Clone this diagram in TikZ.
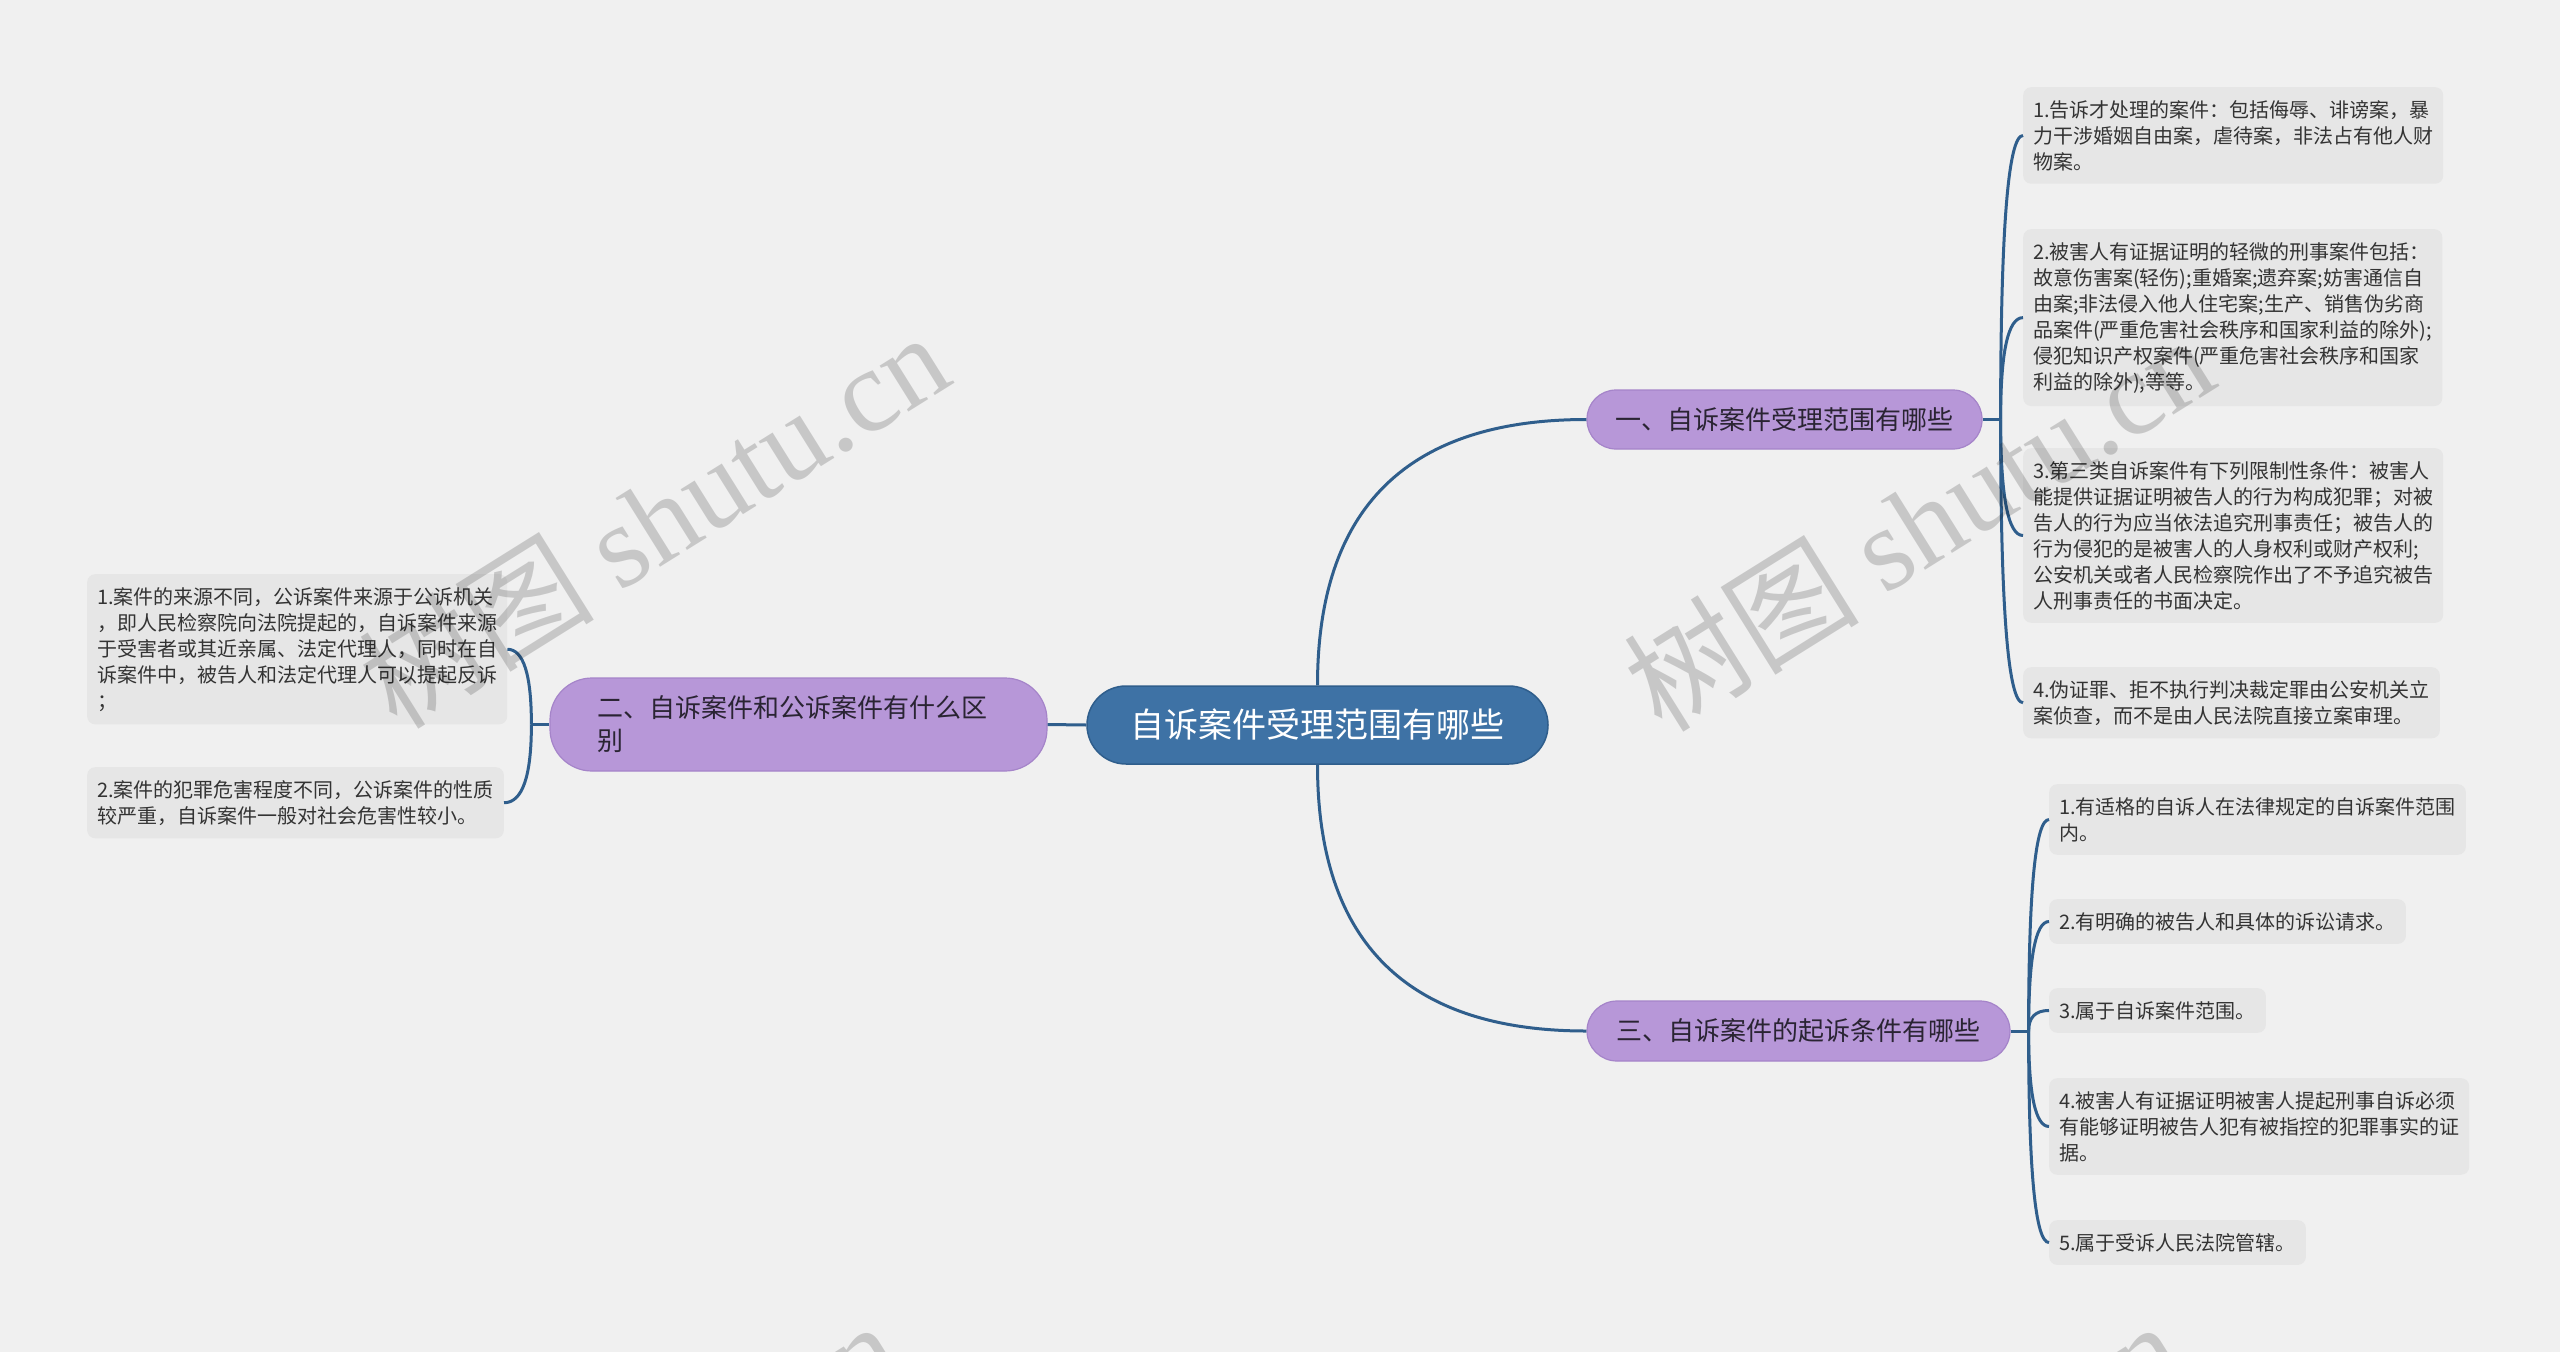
\documentclass[tikz,border=0pt]{standalone}
\usepackage{fontspec}
\setmainfont{Noto Sans CJK SC}
\newfontfamily\cjk{Noto Sans CJK SC}
\newfontfamily\wmlatin{Liberation Serif}
\usetikzlibrary{calc}
\definecolor{bgc}{HTML}{F0F0F0}
\definecolor{leafc}{HTML}{E6E6E6}
\definecolor{leaftext}{HTML}{333333}
\definecolor{brc}{HTML}{B797D8}
\definecolor{brd}{HTML}{A584C9}
\definecolor{brtext}{HTML}{2A2433}
\definecolor{cenc}{HTML}{3E72A5}
\definecolor{cend}{HTML}{2F5E8C}
\definecolor{linec}{HTML}{2F5E8C}
\newcommand\bendconn[2]{%
  \coordinate (tmpk) at (#1|-#2);
  \draw[conn] (#1) .. controls ($(#1)!0.6667!(tmpk)$) and ($(#2)!0.6667!(tmpk)$) .. (#2);}
\begin{document}
\begin{tikzpicture}[x=1pt,y=-1pt,
  conn/.style={draw=linec, line width=3pt},
  leaf/.style={fill=leafc, rounded corners=8pt, inner xsep=10pt, inner ysep=13pt, align=left, anchor=north west, text=leaftext, font=\fontsize{20}{26}\selectfont},
  branch/.style={fill=brc, draw=brd, line width=1.2pt, text=brtext, inner sep=0pt, font=\fontsize{26}{33}\selectfont},
  central/.style={fill=cenc, draw=cend, line width=1.5pt, text=white, inner sep=0pt, font=\fontsize{34}{40}\selectfont},
  wmark/.style={rotate=32, text=black, opacity=0.17, inner sep=0pt, font=\fontsize{118}{120}\selectfont}]
\useasboundingbox (0,0) rectangle (2560,1352);
\clip (0,0) rectangle (2560,1352);
\fill[bgc] (0,0) rectangle (2560,1352);

% central and branch nodes
\node[central, minimum width=461pt, minimum height=78pt, rounded corners=39pt] (c) at (1317.5,725) {自诉案件受理范围有哪些};
\node[branch, minimum width=395pt, minimum height=59pt, rounded corners=29pt] (b1) at (1784.5,419.5) {一、自诉案件受理范围有哪些};
\node[branch, minimum width=423pt, minimum height=60pt, rounded corners=30pt] (b3) at (1798.5,1031) {三、自诉案件的起诉条件有哪些};
\node[branch, text width=403pt, inner xsep=47pt, minimum height=93pt, align=left, rounded corners=42pt] (b2) at (798.5,724.5) {二、自诉案件和公诉案件有什么区\\别};

% leaves of branch 1
\node[leaf] (l1a) at (2023,87) {1.告诉才处理的案件：包括侮辱、诽谤案，暴\\力干涉婚姻自由案，虐待案，非法占有他人财\\物案。};
\node[leaf] (l1b) at (2023,229) {2.被害人有证据证明的轻微的刑事案件包括：\\故意伤害案(轻伤);重婚案;遗弃案;妨害通信自\\由案;非法侵入他人住宅案;生产、销售伪劣商\\品案件(严重危害社会秩序和国家利益的除外);\\侵犯知识产权案件(严重危害社会秩序和国家\\利益的除外);等等。};
\node[leaf] (l1c) at (2023,448) {3.第三类自诉案件有下列限制性条件：被害人\\能提供证据证明被告人的行为构成犯罪；对被\\告人的行为应当依法追究刑事责任；被告人的\\行为侵犯的是被害人的人身权利或财产权利;\\公安机关或者人民检察院作出了不予追究被告\\人刑事责任的书面决定。};
\node[leaf] (l1d) at (2023,667) {4.伪证罪、拒不执行判决裁定罪由公安机关立\\案侦查，而不是由人民法院直接立案审理。};

% leaves of branch 3
\node[leaf] (l3a) at (2049,784) {1.有适格的自诉人在法律规定的自诉案件范围\\内。};
\node[leaf] (l3b) at (2049,899) {2.有明确的被告人和具体的诉讼请求。};
\node[leaf] (l3c) at (2049,988) {3.属于自诉案件范围。};
\node[leaf] (l3d) at (2049,1078) {4.被害人有证据证明被害人提起刑事自诉必须\\有能够证明被告人犯有被指控的犯罪事实的证\\据。};
\node[leaf] (l3e) at (2049,1220) {5.属于受诉人民法院管辖。};

% leaves of branch 2
\node[leaf] (l2a) at (87,574) {1.案件的来源不同，公诉案件来源于公诉机关\\，即人民检察院向法院提起的，自诉案件来源\\于受害者或其近亲属、法定代理人，同时在自\\诉案件中，被告人和法定代理人可以提起反诉\\；};
\node[leaf] (l2b) at (87,767) {2.案件的犯罪危害程度不同，公诉案件的性质\\较严重，自诉案件一般对社会危害性较小。};

% connectors centre -> branches
\bendconn{c.north}{b1.west}
\bendconn{c.south}{b3.west}
\draw[conn] (c.west) -- (b2.east);

% stubs
\coordinate (s1) at ($(b1.east)+(18,0)$);
\coordinate (s3) at ($(b3.east)+(18,0)$);
\coordinate (s2) at ($(b2.west)+(-18,0)$);
\draw[conn] (b1.east) -- (s1);
\draw[conn] (b3.east) -- (s3);
\draw[conn] (b2.west) -- (s2);

\foreach \l in {l1a,l1b,l1c,l1d}{\bendconn{s1}{\l.west}}
\foreach \l in {l3a,l3b,l3c,l3d,l3e}{\bendconn{s3}{\l.west}}
\foreach \l in {l2a,l2b}{\bendconn{s2}{\l.east}}

% watermarks
\node[wmark] (w1) at (653,519) {{\cjk 树图} {\wmlatin shutu.cn}};
\node[wmark] (w2) at (1918,522) {{\cjk 树图} {\wmlatin shutu.cn}};
\node[wmark] (w3) at (604,1508) {{\cjk 树图} {\wmlatin shutu.cn}};
\node[wmark] (w4) at (1886,1508) {{\cjk 树图} {\wmlatin shutu.cn}};
\end{tikzpicture}
\end{document}
